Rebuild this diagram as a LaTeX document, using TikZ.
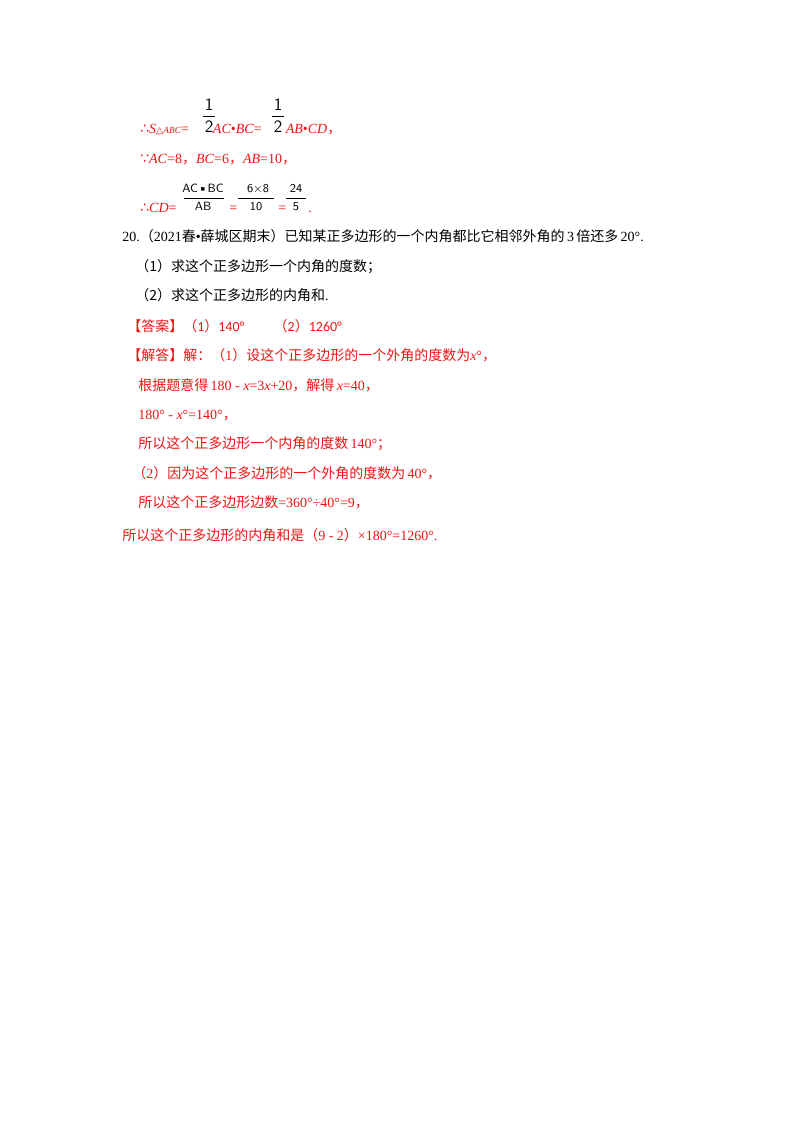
\documentclass[tikz,border=0pt]{standalone}
\usepackage{fontspec}
\setmainfont{Liberation Serif}
\newfontfamily\cjk{Noto Sans CJK SC}
\newfontfamily\calfont{Carlito}
\newfontfamily\djfont{DejaVu Sans}
\definecolor{ans}{RGB}{240,20,20}
\newcommand{\zh}[1]{{\cjk #1}}
\begin{document}
\begin{tikzpicture}[x=0.75pt,y=-0.75pt,
  t/.style={anchor=base west,inner sep=0pt,font=\fontsize{10.5pt}{12pt}\selectfont},
  r/.style={t,text=ans},
  fr/.style={anchor=base,inner sep=0pt,font=\fontsize{11pt}{12pt}\selectfont}]
\fill[white] (0,0) rectangle (800,1132);
% line 1
\node[r] (l1) at (140,133) {{\djfont∴}\textit{S}{\fontsize{7pt}{8pt}\selectfont{\djfont△}\textit{ABC}}=\hspace{18pt}\textit{AC}•\textit{BC}=\hspace{18pt}\textit{AB}•\textit{CD}\zh{，}};
\node[fr,font=\sffamily\fontsize{13pt}{14pt}\selectfont] (n1) at (209,110) {1};
\draw (203,116) -- (215,116);
\node[fr,font=\sffamily\fontsize{13pt}{14pt}\selectfont] (d1) at (209,132) {2};
\node[fr,font=\sffamily\fontsize{13pt}{14pt}\selectfont] (n2) at (278,110) {1};
\draw (272,116) -- (284,116);
\node[fr,font=\sffamily\fontsize{13pt}{14pt}\selectfont] (d2) at (278,132) {2};
% line 2
\node[r] (l2) at (140,163) {{\djfont∵}\textit{AC}=8\zh{，}\textit{BC}=6\zh{，}\textit{AB}=10\zh{，}};
% line 3
\node[r] (l3) at (140,212) {{\djfont∴}\textit{CD}=};
\node[fr,font=\sffamily\fontsize{9pt}{10pt}\selectfont] (f1) at (203,192) {AC•BC};
\draw (184,198) -- (224,198);
\node[fr,font=\sffamily\fontsize{9pt}{10pt}\selectfont] (f1b) at (203,210) {AB};
\node[r] (e1) at (229,212) {=};
\node[fr,font=\sffamily\fontsize{9pt}{10pt}\selectfont] (f2) at (258,192) {6×8};
\draw (238,198) -- (274,198);
\node[fr,font=\sffamily\fontsize{9pt}{10pt}\selectfont] (f2b) at (256,210) {10};
\node[r] (e2) at (278,212) {=};
\node[fr,font=\sffamily\fontsize{9pt}{10pt}\selectfont] (f3) at (296,192) {24};
\draw (286,198) -- (306,198);
\node[fr,font=\sffamily\fontsize{9pt}{10pt}\selectfont] (f3b) at (296,210) {5};
\node[r] (e3) at (308,212) {.};
% question
\node[t] (q) at (122,241) {20.\zh{（}2021\zh{春}•\zh{薛城区期末）已知某正多边形的一个内角都比它相邻外角的}\,3\,\zh{倍还多}\,20°.};
\node[t] (q1) at (135,271) {\zh{（1）求这个正多边形一个内角的度数；}};
\node[t] (q2) at (135,300) {\zh{（2）求这个正多边形的内角和}.};
\node[r] (a0) at (127,331) {\zh{【答案】（}{\calfont 1}\zh{）}{\calfont 140°}\hspace{22pt}\zh{（}{\calfont 2}\zh{）}{\calfont 1260°}};
\node[r] (a1) at (127,360) {\zh{【解答】解：（}1\zh{）设这个正多边形的一个外角的度数为}\textit{x}°\zh{，}};
\node[r] (a2) at (138,390) {\zh{根据题意得}\,180 - \textit{x}=3\textit{x}+20\zh{，解得}\,\textit{x}=40\zh{，}};
\node[r] (a3) at (138,419) {180° - \textit{x}°=140°\zh{，}};
\node[r] (a4) at (138,448) {\zh{所以这个正多边形一个内角的度数}\,140°\zh{；}};
\node[r] (a5) at (132,478) {\zh{（}2\zh{）因为这个正多边形的一个外角的度数为}\,40°\zh{，}};
\node[r] (a6) at (138,507) {\zh{所以这个正多边形边数}=360°÷40°=9\zh{，}};
\node[r] (a7) at (122,540) {\zh{所以这个正多边形的内角和是（}9 - 2\zh{）}×180°=1260°.};
\end{tikzpicture}
\end{document}
